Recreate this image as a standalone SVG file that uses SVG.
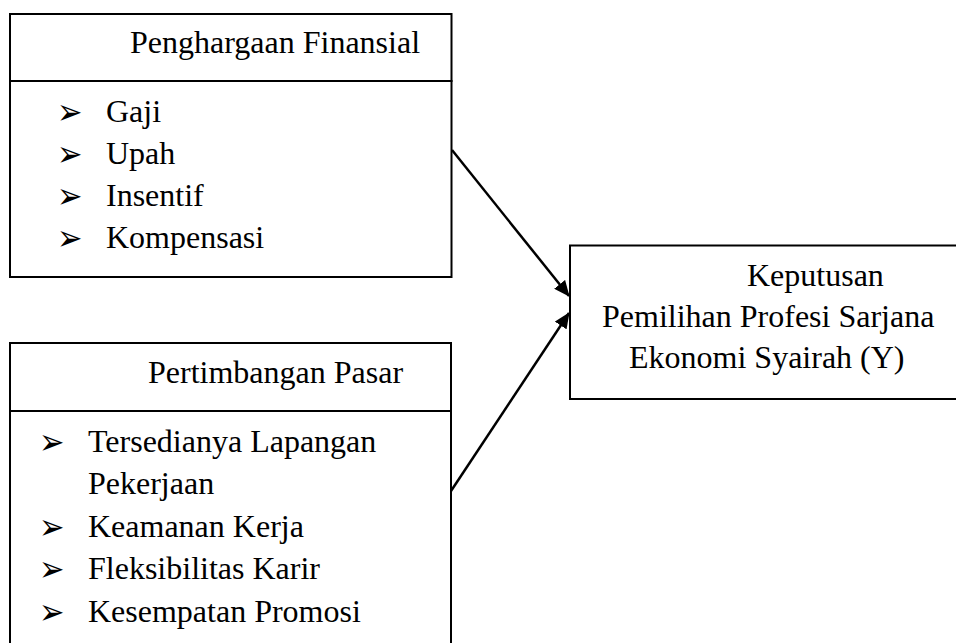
<svg xmlns="http://www.w3.org/2000/svg" width="956" height="643" viewBox="0 0 956 643">
<style>
.box{fill:none;stroke:#000;stroke-width:2}
.t{font-family:"Liberation Serif","Times New Roman",serif;font-size:32px;fill:#000}
.b{font-family:"DejaVu Sans",sans-serif;font-size:32px;fill:#000}
.c{stroke:#000;stroke-width:2.5;fill:none}
</style>
<defs>
<marker id="ah" markerWidth="16" markerHeight="14" refX="15" refY="7" orient="auto" markerUnits="userSpaceOnUse">
<path d="M0,0 L16,7 L0,14 Z" fill="#000"/>
</marker>
</defs>
<rect width="956" height="643" fill="#fff"/>
<g id="node-finansial">
<rect class="box" x="10" y="14" width="441.5" height="67"/>
<rect class="box" x="10" y="81" width="441.5" height="196"/>
<text class="t" x="130" y="53">Penghargaan Finansial</text>
<text class="b" transform="translate(57,124) scale(0.95,1.12)">➢</text>
<text class="t" x="106" y="122">Gaji</text>
<text class="b" transform="translate(57,166) scale(0.95,1.12)">➢</text>
<text class="t" x="106" y="164">Upah</text>
<text class="b" transform="translate(57,208) scale(0.95,1.12)">➢</text>
<text class="t" x="106" y="206">Insentif</text>
<text class="b" transform="translate(57,250) scale(0.95,1.12)">➢</text>
<text class="t" x="106" y="248">Kompensasi</text>
</g>
<g id="node-pasar">
<rect class="box" x="10" y="343" width="441" height="68"/>
<path class="box" d="M10,411 L10,650 M451,411 L451,650"/>
<text class="t" x="148" y="383">Pertimbangan Pasar</text>
<text class="b" transform="translate(39,454) scale(0.95,1.12)">➢</text>
<text class="t" x="88" y="452">Tersedianya Lapangan</text>
<text class="t" x="88" y="494">Pekerjaan</text>
<text class="b" transform="translate(39,539) scale(0.95,1.12)">➢</text>
<text class="t" x="88" y="537">Keamanan Kerja</text>
<text class="b" transform="translate(39,581) scale(0.95,1.12)">➢</text>
<text class="t" x="88" y="579">Fleksibilitas Karir</text>
<text class="b" transform="translate(39,624) scale(0.95,1.12)">➢</text>
<text class="t" x="88" y="622">Kesempatan Promosi</text>
</g>
<g id="node-keputusan">
<rect class="box" x="570" y="245.5" width="400" height="153.5"/>
<text class="t" x="747" y="286">Keputusan</text>
<text class="t" x="602" y="327">Pemilihan Profesi Sarjana</text>
<text class="t" x="629" y="368">Ekonomi Syairah (Y)</text>
</g>
<g id="connectors">
<line class="c" x1="452" y1="150" x2="569" y2="296" marker-end="url(#ah)"/>
<line class="c" x1="451" y1="491" x2="569" y2="313" marker-end="url(#ah)"/>
</g>
</svg>
